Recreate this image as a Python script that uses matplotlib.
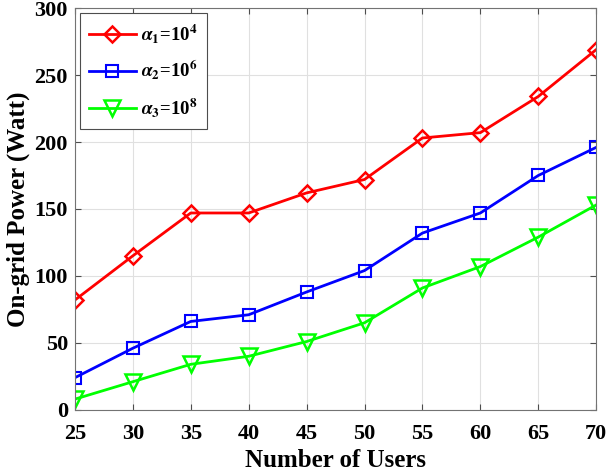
import numpy as np
import matplotlib
matplotlib.use('Agg')
import matplotlib.pyplot as plt

# Data
users = [25, 30, 35, 40, 45, 50, 55, 60, 65, 70]
power_a1 = [82, 115, 147, 147, 162, 172, 203, 207, 234, 269]
power_a2 = [24, 46, 66, 71, 88, 104, 132, 147, 175, 196]
power_a3 = [8, 21, 34, 40, 51, 65, 91, 107, 129, 153]
labels = [r'$\alpha_1$=10$^4$', r'$\alpha_2$=10$^6$', r'$\alpha_3$=10$^8$']

plt.rcParams['font.family'] = 'Liberation Serif'
plt.rcParams['font.weight'] = 'bold'
plt.rcParams['mathtext.fontset'] = 'stix'

fig = plt.figure(figsize=(6.09, 4.76), dpi=100)
ax = fig.add_axes([0.123, 0.139, 0.856, 0.844])

ax.plot(users, power_a1, color=(1, 0, 0), linewidth=2, marker='D', markersize=8.5,
        markerfacecolor='none', markeredgewidth=1.8, label=labels[0])
ax.plot(users, power_a2, color=(0, 0, 1), linewidth=2, marker='s', markersize=8,
        markerfacecolor='none', markeredgewidth=1.5, label=labels[1])
ax.plot(users, power_a3, color=(0, 1, 0), linewidth=2, marker='v', markersize=11,
        markerfacecolor='none', markeredgewidth=1.8, label=labels[2])

ax.set_xlim(25, 70)
ax.set_ylim(0, 300)
ax.set_xticks(np.arange(25, 71, 5))
ax.set_yticks(np.arange(0, 301, 50))
ax.tick_params(direction='in', top=True, right=True, labelsize=16, length=4,
               color='0.3')
ax.tick_params(axis='x', pad=10)
ax.tick_params(axis='y', pad=5)
for lbl in ax.get_xticklabels() + ax.get_yticklabels():
    lbl.set_fontweight('bold')
ax.grid(True, color='0.88', linewidth=0.8)
ax.set_axisbelow(True)
for sp in ax.spines.values():
    sp.set_color('0.45')
    sp.set_linewidth(0.8)

ax.set_xlabel('Number of Users', fontsize=18, fontweight='bold', labelpad=4)
ax.set_ylabel('On-grid Power (Watt)', fontsize=18, fontweight='bold', labelpad=3)

leg = ax.legend(loc='upper left', fontsize=13.5, frameon=True, fancybox=False,
                edgecolor='0.3', framealpha=1, handlelength=2.5,
                handletextpad=0.3, borderpad=0.5, borderaxespad=0.25,
                labelspacing=0.75)
leg.get_frame().set_linewidth(0.8)

fig.savefig('out.png', dpi=100)
